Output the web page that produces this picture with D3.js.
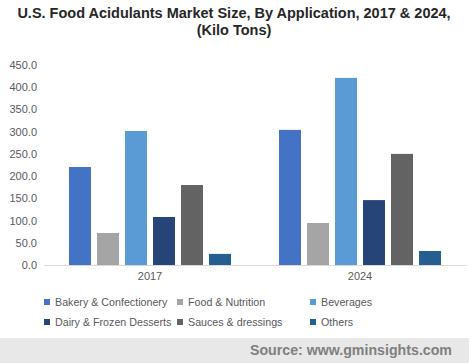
<!DOCTYPE html>
<html><head><meta charset="utf-8">
<script src="https://cdn.jsdelivr.net/npm/d3@7"></script>
<style>body{margin:0;background:#fff}svg{display:block}</style>
</head><body>
<svg id="c" width="469" height="363"></svg>
<script>
const years = ["2017", "2024"];
const series = ["Bakery & Confectionery", "Food & Nutrition", "Beverages", "Dairy & Frozen Desserts", "Sauces & dressings", "Others"];
const bakery = [220.5, 304];
const food = [72, 94.5];
const beverages = [301.5, 421];
const dairy = [108, 146];
const sauces = [180, 250];
const others = [25, 31.5];
const yTicks = [0, 50, 100, 150, 200, 250, 300, 350, 400, 450];
const colors = ["#4472C4", "#A5A5A5", "#5B9BD5", "#264478", "#636363", "#255E91"];
const values = [bakery, food, beverages, dairy, sauces, others];

const svg = d3.select("#c");
const font = "'Liberation Sans', Arial, sans-serif";

// title
svg.append("text").attr("x", 234).attr("y", 18).attr("text-anchor", "middle")
  .style("font-family", font).style("font-weight", "bold").style("font-size", "14.5px").attr("fill", "#262626")
  .text("U.S. Food Acidulants Market Size, By Application, 2017 & 2024,");
svg.append("text").attr("x", 234).attr("y", 35).attr("text-anchor", "middle")
  .style("font-family", font).style("font-weight", "bold").style("font-size", "14.5px").attr("fill", "#262626")
  .text("(Kilo Tons)");

const x0 = d3.scaleBand().domain(years).range([45, 465]);
const pi = 6 / 28;
const x1 = d3.scaleBand().domain(series).range([0, x0.bandwidth()])
  .paddingInner(pi).paddingOuter((7.5 - 6 + pi) / 2);
const y = d3.scaleLinear().domain([0, 450]).range([265, 65]);

// y axis labels
const ya = svg.append("g").attr("transform", "translate(37,0)")
  .call(d3.axisLeft(y).tickValues(yTicks).tickSize(0).tickPadding(0).tickFormat(d3.format(".1f")));
ya.select(".domain").remove();
ya.selectAll("text").style("font-family", font).style("font-size", "11px").attr("fill", "#595959");

// bars
years.forEach((yr, i) => {
  const g = svg.append("g").attr("transform", `translate(${x0(yr)},0)`);
  g.selectAll("rect").data(series).join("rect")
    .attr("x", s => x1(s))
    .attr("width", x1.bandwidth())
    .attr("y", (s, j) => y(values[j][i]))
    .attr("height", (s, j) => y(0) - y(values[j][i]))
    .attr("fill", (s, j) => colors[j]);
});

// x axis
const xa = svg.append("g").attr("transform", "translate(0,265.5)")
  .call(d3.axisBottom(x0).tickSize(0).tickPadding(7));
xa.select(".domain").attr("stroke", "#d9d9d9").attr("stroke-width", 1).attr("d", "M44,0H466");
xa.selectAll("text").style("font-family", font).style("font-size", "11px").attr("fill", "#595959");

// legend
const colX = [44, 177, 310];
const rowY = [302, 322];
series.forEach((s, j) => {
  const cx = colX[j % 3], cy = rowY[Math.floor(j / 3)];
  svg.append("rect").attr("x", cx).attr("y", cy - 3).attr("width", 6).attr("height", 6).attr("fill", colors[j]);
  svg.append("text").attr("x", cx + 11).attr("y", cy + 4)
    .style("font-family", font).style("font-size", "10.7px").attr("fill", "#595959").text(s);
});

// footer
svg.append("rect").attr("x", 0).attr("y", 338).attr("width", 469).attr("height", 25).attr("fill", "#e8e8e8");
svg.append("text").attr("x", 452).attr("y", 355).attr("text-anchor", "end")
  .style("font-family", font).style("font-weight", "bold").style("font-size", "14.2px").attr("fill", "#7f7f7f")
  .text("Source: www.gminsights.com");
</script>
</body></html>
